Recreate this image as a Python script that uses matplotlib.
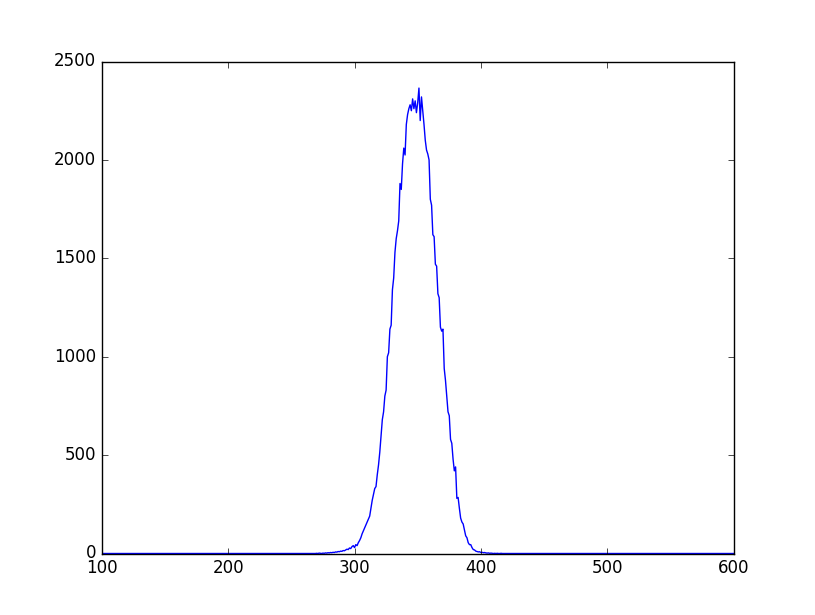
import matplotlib
matplotlib.use("Agg")
import matplotlib.pyplot as plt
import numpy as np

plt.style.use('classic')

# histogram counts (x = 100..600, one bin per unit)
x_lo, x_hi = 100, 600
bump_start = 270
bump_counts = [
    1, 0, 2, 1, 0, 2, 1, 3, 2, 4,             # 270-279
    3, 5, 4, 6, 5, 8, 7, 10, 9, 12,           # 280-289
    11, 15, 14, 18, 22, 20, 28, 25, 35, 40,   # 290-299
    30, 45, 40, 55, 66, 80, 100, 115, 130, 145,  # 300-309
    160, 175, 190, 230, 270, 300, 330, 340, 400, 450,  # 310-319
    515, 600, 680, 720, 800, 830, 1000, 1020, 1140, 1160,  # 320-329
    1340, 1400, 1530, 1600, 1640, 1690, 1880, 1850, 1980, 2060,  # 330-339
    2025, 2180, 2230, 2260, 2280, 2250, 2310, 2260, 2300, 2240,  # 340-349
    2290, 2365, 2200, 2320, 2250, 2180, 2100, 2050, 2030, 2000,  # 350-359
    1800, 1770, 1620, 1610, 1470, 1460, 1320, 1300, 1150, 1130,  # 360-369
    1140, 940, 880, 800, 720, 700, 580, 560, 480, 420,  # 370-379
    440, 280, 285, 230, 180, 160, 150, 120, 90, 80,  # 380-389
    55, 45, 45, 30, 20, 18, 12, 10, 8, 9,     # 390-399
    5, 6, 4, 5, 3, 2, 3, 1, 2, 1,             # 400-409
    0, 1, 0, 1, 0, 0, 1, 0, 0, 0,             # 410-419
]

x = np.arange(x_lo, x_hi + 1)
counts = np.zeros(len(x))
counts[bump_start - x_lo:bump_start - x_lo + len(bump_counts)] = bump_counts

fig = plt.figure(figsize=(8.15, 6.15), dpi=100)
ax = fig.add_subplot(111)
ax.plot(x, counts, '-', color='b')
ax.set_xlim(x_lo, x_hi)
ax.set_ylim(0, 2500)
ax.set_xticks([100, 200, 300, 400, 500, 600])
ax.set_yticks([0, 500, 1000, 1500, 2000, 2500])

fig.savefig('out.png', dpi=100)
